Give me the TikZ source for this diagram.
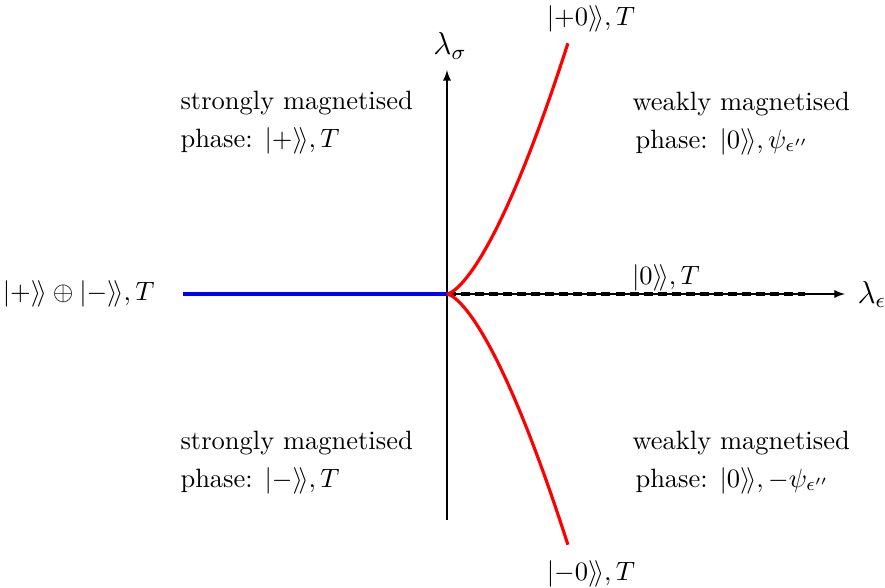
\documentclass[tikz,border=0pt]{standalone}
\usepackage{amsmath}
\newcommand{\dket}[1]{|#1\rangle\!\rangle}
\tikzset{
  axisline/.style={line width=0.4pt, -latex},
  phaseline/.style={line width=1.2pt},
  txt/.style={inner sep=0pt, anchor=base west},
  biglabel/.style={inner sep=0pt, font=\large},
}
\begin{document}
\begin{tikzpicture}[x=0.3774pt, y=-0.3774pt]
\useasboundingbox (0,0) rectangle (885,588);
\coordinate (O) at (447,294);
\coordinate (xend) at (845,294);
\coordinate (ytop) at (447,70);
\coordinate (ybot) at (447,520);
\coordinate (bstart) at (183,294);
\coordinate (dend) at (805,294);
% axes
\draw[axisline] (ybot) -- (ytop);
\draw[axisline] (O) -- (xend);
% phase boundaries
\draw[phaseline, blue] (bstart) -- (O);
\draw[phaseline, black, dash pattern=on 3.4pt off 1.9pt] (O) -- (dend);
\draw[phaseline, red] plot[domain=0:1, samples=60, variable=\t] ({447+121*\t},{294-251*\t*sqrt(\t)});
\draw[phaseline, red] plot[domain=0:1, samples=60, variable=\t] ({447+121*\t},{294+251*\t*sqrt(\t)});
% axis labels
\node[biglabel, anchor=base] (ls) at (450,55) {$\lambda_\sigma$};
\node[biglabel, anchor=base west] (le) at (857,303) {$\lambda_\epsilon$};
% line labels
\node[inner sep=0pt, anchor=base] (lp0) at (591,25) {$\dket{{+}0},T$};
\node[inner sep=0pt, anchor=base] (lm0) at (591,580) {$\dket{{-}0},T$};
\node[inner sep=0pt, anchor=base] (l0) at (666,284) {$\dket{0},T$};
\node[inner sep=0pt, anchor=base east] (lpm) at (155,300) {$\dket{+}\oplus\dket{-},T$};
% phase labels
\node[txt] (s1a) at (180,109) {strongly magnetised};
\node[txt] (s1b) at (180,147) {phase: $\dket{+},T$};
\node[txt] (w1a) at (632,110) {weakly magnetised};
\node[txt] (w1b) at (635,148) {phase: $\dket{0},\psi_{\epsilon''}$};
\node[txt] (s2a) at (180,449) {strongly magnetised};
\node[txt] (s2b) at (180,487) {phase: $\dket{-},T$};
\node[txt] (w2a) at (632,449) {weakly magnetised};
\node[txt] (w2b) at (635,487) {phase: $\dket{0},-\psi_{\epsilon''}$};
\end{tikzpicture}
\end{document}
